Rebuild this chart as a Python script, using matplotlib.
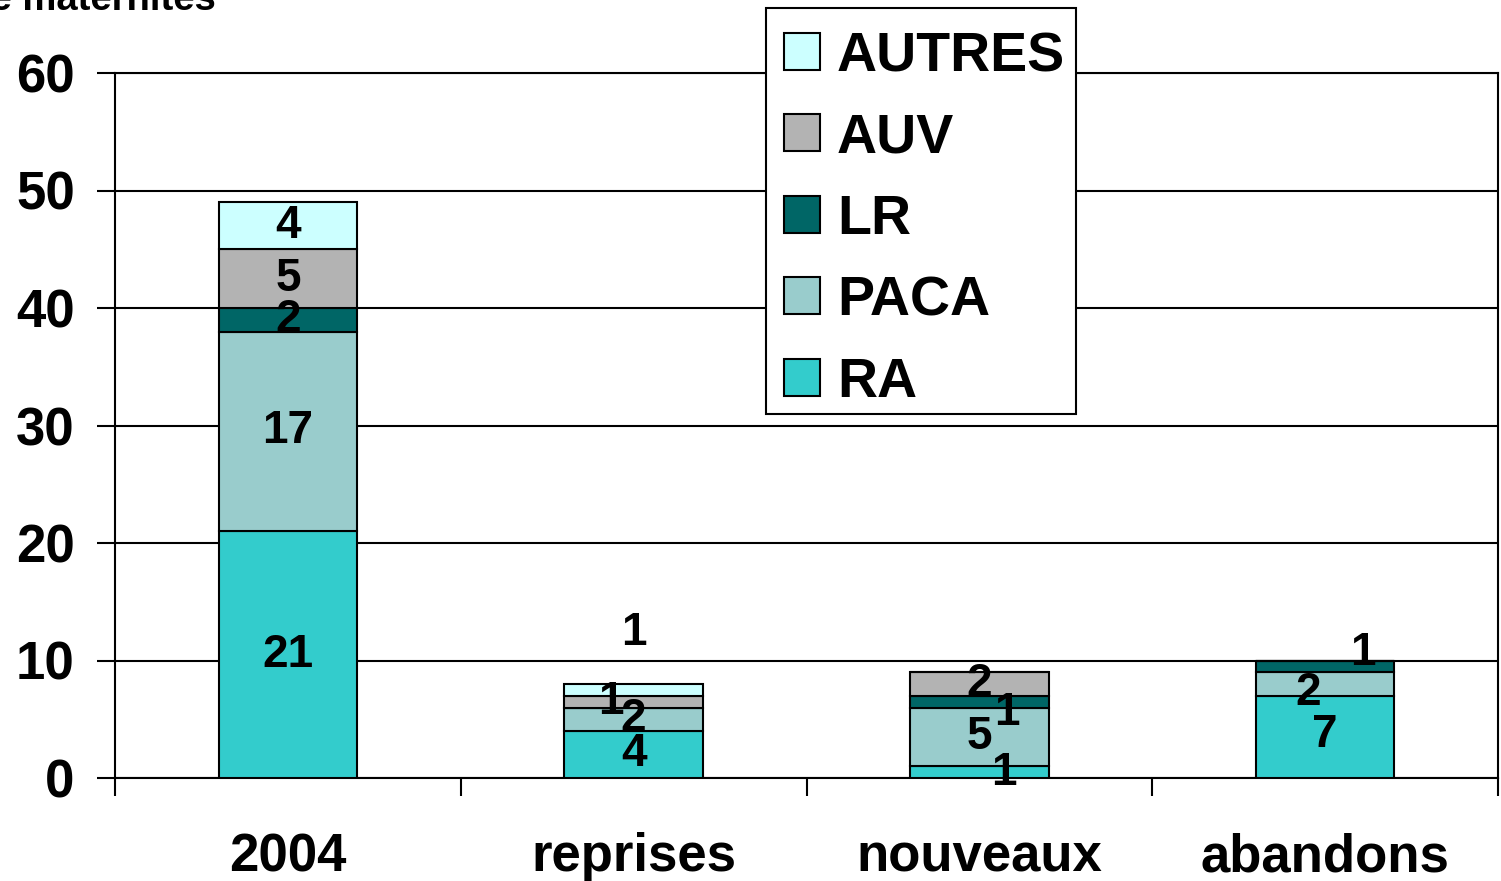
import matplotlib.pyplot as plt
from matplotlib.patches import Patch, Rectangle

plt.rcParams['font.family'] = ['Liberation Sans', 'DejaVu Sans']
plt.rcParams['font.weight'] = 'bold'

categories = ['2004', 'reprises', 'nouveaux', 'abandons']
series = ['RA', 'PACA', 'LR', 'AUV', 'AUTRES']
RA = [21, 4, 1, 7]
PACA = [17, 2, 5, 2]
LR = [2, 0, 1, 1]
AUV = [5, 1, 2, 0]
AUTRES = [4, 1, 0, 0]
values = [RA, PACA, LR, AUV, AUTRES]
couleurs = ['#33CCCC', '#99CCCC', '#006666', '#B3B3B3', '#CCFFFF']

# decalages des etiquettes (dx en unites de categorie, dy en unites y), comme sur l'original
decal = {
    (1, 3): (-0.065, 0.0),
    (1, 4): (0.0, 4.8),
    (2, 0): (0.07, -0.1),
    (2, 2): (0.08, -1.0),
    (3, 1): (-0.05, -0.8),
    (3, 2): (0.11, 1.1),
    (3, 0): (0.0, 0.2),
}

fig = plt.figure(figsize=(15.01, 8.81), dpi=100)
ax = fig.add_axes([115/1501, 103/881, 1383/1501, 705/881])

x = list(range(len(categories)))
bas = [0] * len(categories)
for i, (nom, vals) in enumerate(zip(series, values)):
    ax.bar(x, vals, bottom=bas, width=0.40, color=couleurs[i],
           edgecolor='black', linewidth=1.5, zorder=3)
    for j, v in enumerate(vals):
        if v > 0:
            dx, dy = decal.get((j, i), (0, 0))
            ax.text(x[j] + dx, bas[j] + v / 2 + dy, str(v), ha='center', va='center',
                    fontsize=33, fontweight='bold', zorder=4)
    bas = [b + v for b, v in zip(bas, vals)]

ax.set_xlim(-0.5, 3.5)
ax.set_ylim(0, 60)
ax.set_yticks(range(0, 61, 10))
ax.yaxis.grid(True, color='black', linewidth=1.5, zorder=0)
ax.set_xticks(x)
ax.set_xticklabels(categories)
ax.set_xticks([-0.5, 0.5, 1.5, 2.5, 3.5], minor=True)
ax.tick_params(axis='x', which='major', length=0, pad=39, labelsize=38)
ax.tick_params(axis='x', which='minor', length=13, width=1.5)
ax.tick_params(axis='y', length=13, width=1.5, pad=16, labelsize=38)
for s in ax.spines.values():
    s.set_linewidth(1.5)

fig.text(216/1501, 1 - 10/881, 'Nombre de maternités', ha='right', va='baseline',
         fontsize=27.5, fontweight='bold')

# cadre de la legende
cadre = Rectangle((766/1501, 1 - 414/881), 310/1501, 406/881, transform=fig.transFigure,
                  facecolor='white', edgecolor='black', linewidth=1.5, zorder=9)
fig.patches.append(cadre)

poignees = [Patch(facecolor=couleurs[i], edgecolor='black', linewidth=1.5, label=series[i])
            for i in range(len(series) - 1, -1, -1)]
leg = fig.legend(handles=poignees, loc='upper left', bbox_to_anchor=(784/1501, 1 - 31/881),
                 fontsize=40, frameon=False, handlelength=0.65, handleheight=0.65,
                 handletextpad=0.3, labelspacing=0.53, borderpad=0, borderaxespad=0)
leg.set_zorder(10)

fig.savefig('out.png', dpi=100)
